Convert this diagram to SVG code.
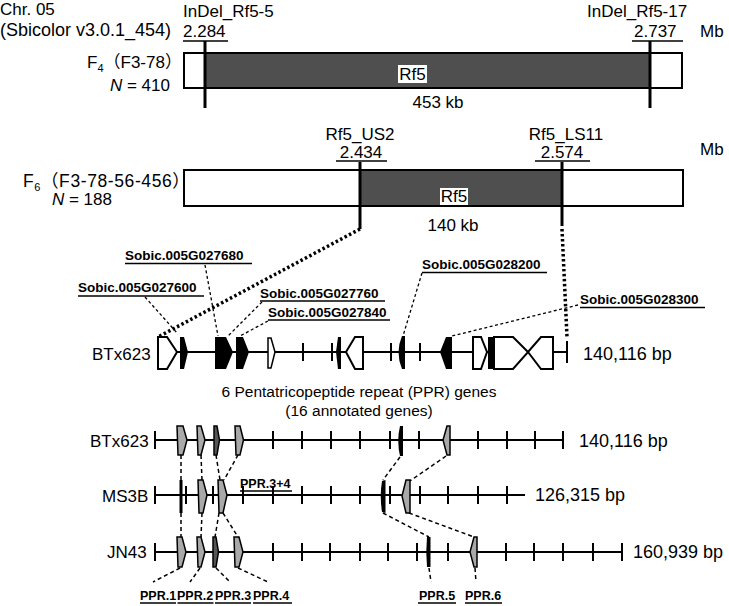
<svg xmlns="http://www.w3.org/2000/svg" width="729" height="606" viewBox="0 0 729 606">
<style>
text{font-family:"Liberation Sans","Noto Sans CJK JP",sans-serif;fill:#000;font-size:17px}
.bp{font-size:18px}
.gl{font-size:13.5px;font-weight:bold}
.pl{font-size:12.5px;font-weight:bold}
.ttl{font-size:15.5px}
.ol{fill:none;stroke:#000;stroke-width:2}
.dark{fill:#4f4f4f}
.mk{stroke:#000;stroke-width:3}
.ul{stroke:#000;stroke-width:1.5}
.ax{stroke:#000;stroke-width:2;fill:none}
.blk{fill:#000}
.wht{fill:#fff;stroke:#000;stroke-width:2}
.gry{fill:#a9a9a9;stroke:#000;stroke-width:1.5}
.dg{fill:#555;stroke:#000;stroke-width:1.5}
.dsh{stroke:#000;stroke-width:1.5;stroke-dasharray:4 3;fill:none}
.dot{stroke:#000;stroke-width:3.5;stroke-dasharray:2.5 2.5;fill:none}
</style>

<g id="header">
<text x="0" y="15">Chr. 05</text>
<text x="0" y="36" style="font-size:18px">(Sbicolor v3.0.1_454)</text>
</g>

<g id="bar-f4">
<rect x="184" y="53" width="498" height="35" fill="#fff"/>
<rect class="dark" x="205" y="53" width="445" height="35"/>
<rect class="ol" x="184" y="53" width="498" height="35"/>
<rect x="398" y="65" width="29" height="18" fill="#fff"/>
<text x="412.5" y="80" text-anchor="middle">Rf5</text>
<text x="438" y="108" text-anchor="middle">453 kb</text>
<text x="87" y="68">F<tspan font-size="11" dy="4">4</tspan><tspan dy="-4">（F3-78）</tspan></text>
<text x="170" y="91" text-anchor="end"><tspan font-style="italic">N</tspan> = 410</text>
</g>

<g id="marker-indel5">
<text x="183" y="17">InDel_Rf5-5</text>
<text x="183" y="37">2.284</text>
<line class="ul" x1="183" y1="41" x2="228" y2="41"/>
<line class="mk" x1="205" y1="41" x2="205" y2="108"/>
</g>

<g id="marker-indel17">
<text x="587" y="17">InDel_Rf5-17</text>
<text x="634" y="37">2.737</text>
<line class="ul" x1="632" y1="41" x2="683" y2="41"/>
<line class="mk" x1="650" y1="41" x2="650" y2="108"/>
<text x="700" y="37">Mb</text>
</g>

<g id="bar-f6">
<rect x="184" y="170" width="499" height="36" fill="#fff"/>
<rect class="dark" x="360" y="170" width="202" height="36"/>
<rect class="ol" x="184" y="170" width="499" height="36"/>
<rect x="440" y="188" width="28" height="17" fill="#fff"/>
<text x="454" y="202" text-anchor="middle">Rf5</text>
<text x="453" y="231" text-anchor="middle">140 kb</text>
<text x="23" y="187" style="font-size:17.5px;letter-spacing:0.6px">F<tspan font-size="11" dy="4">6</tspan><tspan dy="-4">（F3-78-56-456）</tspan></text>
<text x="112" y="205" text-anchor="end"><tspan font-style="italic">N</tspan> = 188</text>
<text x="700" y="155">Mb</text>
</g>

<g id="marker-us2">
<text x="360" y="140" text-anchor="middle">Rf5_US2</text>
<text x="361" y="158" text-anchor="middle">2.434</text>
<line class="ul" x1="336" y1="161" x2="387" y2="161"/>
<line class="mk" x1="360" y1="162" x2="360" y2="229"/>
</g>

<g id="marker-ls11">
<text x="566" y="140" text-anchor="middle">Rf5_LS11</text>
<text x="562" y="158" text-anchor="middle">2.574</text>
<line class="ul" x1="535" y1="161" x2="590" y2="161"/>
<line class="mk" x1="562" y1="162" x2="562" y2="226"/>
</g>

<g id="gene-row">
<text x="92" y="360">BTx623</text>
<path class="ax" d="M177,352 H567 M567,341 V363 M303,343 V361 M332,343 V361 M391,343 V361 M420,343 V361"/>
<polygon class="wht" points="158,337 167,337 177,352 167,369 158,369"/>
<polygon class="blk" points="180,337 184,337 188,352 184,369 180,369"/>
<polygon class="blk" points="215,337 226,337 233,352 226,369 215,369"/>
<polygon class="blk" points="236,337 243,337 249,352 243,369 236,369"/>
<polygon class="wht" style="stroke-width:1.5" points="268,338 271,338 275,352 271,368 268,368"/>
<polygon class="blk" points="336,352 338,337 341,337 341,369 338,369"/>
<polygon class="wht" points="346,352 355,337 363,337 363,369 355,369"/>
<path class="blk" d="M405,336 L402,336 Q395,352 402,369 L405,369 Z"/>
<polygon class="blk" points="440,352 446,337 452,337 452,369 446,369"/>
<polygon class="wht" points="473,337 481,337 487,352 481,369 473,369"/>
<rect class="blk" x="488" y="337" width="5" height="32"/>
<polygon class="wht" points="494,337 513,337 528,352 541,337 553,337 553,369 541,369 528,352 513,369 494,369"/>
<text x="583" y="360" class="bp">140,116 bp</text>
</g>

<g id="gene-labels">
<text class="gl" x="125" y="260">Sobic.005G027680</text>
<line class="ul" x1="125" y1="263.5" x2="252" y2="263.5"/>
<text class="gl" x="78" y="292">Sobic.005G027600</text>
<line class="ul" x1="78" y1="296" x2="204" y2="296"/>
<text class="gl" x="260" y="298">Sobic.005G027760</text>
<line class="ul" x1="260" y1="301" x2="385" y2="301"/>
<text class="gl" x="268" y="317">Sobic.005G027840</text>
<line class="ul" x1="268" y1="320" x2="390" y2="320"/>
<text class="gl" x="422" y="269">Sobic.005G028200</text>
<line class="ul" x1="422" y1="272.5" x2="547" y2="272.5"/>
<text class="gl" x="580" y="304">Sobic.005G028300</text>
<line class="ul" x1="580" y1="307.5" x2="705" y2="307.5"/>
</g>

<g id="ppr-title">
<text class="ttl" x="359" y="397" text-anchor="middle">6 Pentatricopeptide repeat (PPR) genes</text>
<text class="ttl" x="359" y="416" text-anchor="middle">(16 annotated genes)</text>
</g>

<g id="row-btx623">
<text x="90" y="447">BTx623</text>
<path class="ax" d="M155,440 H563 M155,431 V449 M273,431 V449 M302,431 V449 M331,431 V449 M360,431 V449 M390,431 V449 M419,431 V449 M478,431 V449 M507,431 V449 M535,431 V449 M563,431 V449"/>
<path class="gry" d="M177,426 L183,426 L187,440 L183,455 L178,455 Z"/>
<path class="gry" d="M197,426 L201,426 L205,440 L201,455 L198,455 Z"/>
<path class="dg" d="M214,426 L217,426 L219.5,440 L217,455 L214,455 Z"/>
<path class="gry" d="M235,426 L240,426 L243.5,440 L240,455 L236,455 Z"/>
<path class="blk" d="M400,426 L403,426 L403,456 L400,456 Q396.5,441 400,426 Z"/>
<path class="gry" d="M447,426 L450,426 L450,455 L447,455 L443,440 Z"/>
<text x="579" y="447" class="bp">140,116 bp</text>
</g>

<g id="row-ms3b">
<text x="102" y="502">MS3B</text>
<path class="ax" d="M155,495 H525 M155,486 V504 M186,486 V504 M213,486 V504 M243,486 V504 M273,486 V504 M302,486 V504 M331,486 V504 M360,486 V504 M390,486 V504 M420,486 V504 M448,486 V504 M478,486 V504 M507,486 V504"/>
<rect class="blk" x="179.5" y="480" width="3" height="33"/>
<path class="gry" d="M198,480 L203,480 L207,495 L203,513 L199,513 Z"/>
<path class="gry" d="M218,480 L223,480 L227,495 L223,513 L219,513 Z"/>
<path class="blk" d="M382,481 L385.5,480 L385.5,513 L382,512 Q379.5,496 382,481 Z"/>
<path class="gry" d="M406,480 L410,480 L410,513 L406,513 L402,496 Z"/>
<text class="pl" x="240" y="488">PPR.3+4</text>
<line class="ul" x1="240" y1="491" x2="292" y2="491"/>
<text x="535" y="501" class="bp">126,315 bp</text>
</g>

<g id="row-jn43">
<text x="107" y="558">JN43</text>
<path class="ax" d="M155,552 H622 M155,543 V561 M273,543 V561 M302,543 V561 M330,543 V561 M360,543 V561 M388,543 V561 M417,543 V561 M448,543 V561 M506,543 V561 M534,543 V561 M563,543 V561 M593,543 V561 M622,543 V561"/>
<path class="gry" d="M177,537 L182,537 L186,552 L182,567 L178,567 Z"/>
<path class="gry" d="M197,537 L201,537 L205,552 L201,567 L198,567 Z"/>
<path class="dg" d="M213,537 L216,537 L218.5,552 L216,567 L213,567 Z"/>
<path class="gry" d="M234,537 L239,537 L243,552 L239,567 L235,567 Z"/>
<path class="blk" d="M427,537 L430.5,537 L430.5,567 L427,567 Q425.5,552 427,537 Z"/>
<path class="gry" d="M474,537 L477,537 L477,567 L474,567 L470,552 Z"/>
<text x="633" y="558" class="bp">160,939 bp</text>
</g>

<g id="ppr-labels">
<text class="pl" x="140" y="600">PPR.1</text>
<line class="ul" x1="140" y1="603" x2="176" y2="603"/>
<text class="pl" x="177" y="600">PPR.2</text>
<line class="ul" x1="177.5" y1="603" x2="213.5" y2="603"/>
<text class="pl" x="215" y="600">PPR.3</text>
<line class="ul" x1="215" y1="603" x2="251" y2="603"/>
<text class="pl" x="253" y="600">PPR.4</text>
<line class="ul" x1="253" y1="603" x2="292" y2="603"/>
<text class="pl" x="419" y="600">PPR.5</text>
<line class="ul" x1="418" y1="603" x2="456" y2="603"/>
<text class="pl" x="465" y="600">PPR.6</text>
<line class="ul" x1="465" y1="603" x2="502" y2="603"/>
</g>

<g id="connectors">
<path class="dot" d="M360,229 L158,337 M562,229 L567,337"/>
<path class="dsh" style="stroke-width:1.3;stroke-dasharray:3 2.5" d="M145,297 L178,334 M205,265 L218,336 M262,302 L228,336 M268,321 L240,336 M422,273 L403,336 M578,305 L452,336"/>
<path class="dsh" d="M181,455 L181,480 M201,455 L202,480 M216,455 L220,480 M238,455 L224,480 M400,457 L383,480 M446,456 L410,481"/>
<path class="dsh" d="M181,513 L181,537 M202,513 L201,537 M219,513 L215,537 M223,513 L238,537 M383,513 L429,537 M409,513 L474,537"/>
<path class="dsh" d="M180,568 L153,582 M200,568 L190,582 M216,568 L230,582 M238,568 L268,582 M429,568 L431,582 M475,568 L476,582"/>
</g>
</svg>
